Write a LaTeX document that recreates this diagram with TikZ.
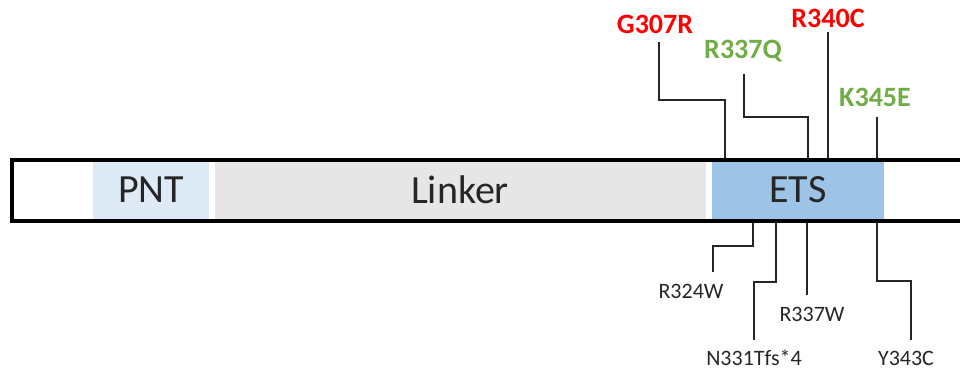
\documentclass[tikz,border=0pt]{standalone}
\usepackage{fontspec}
\setmainfont{Carlito}
\definecolor{pntc}{HTML}{DEEBF7}
\definecolor{linkc}{HTML}{E7E6E6}
\definecolor{etsc}{HTML}{9DC3E6}
\definecolor{mred}{HTML}{FF0000}
\definecolor{mgreen}{HTML}{70AD47}
\definecolor{txt}{HTML}{262626}
\begin{document}
\begin{tikzpicture}[x=1pt,y=-1pt,
  domain/.style={draw=none,inner sep=0,anchor=north west},
  dlabel/.style={text=txt,font=\fontsize{40}{42}\selectfont,inner sep=0},
  redlab/.style={text=mred,font=\fontsize{28}{30}\selectfont\bfseries,inner sep=0,anchor=base},
  greenlab/.style={text=mgreen,font=\fontsize{28}{30}\selectfont\bfseries,inner sep=0,anchor=base},
  botlab/.style={text=txt,font=\fontsize{22}{24}\selectfont,inner sep=0,anchor=base},
  conn/.style={draw=black!85,line width=1.5pt},
  bar/.style={draw=black,line width=4pt,line join=miter}]
\useasboundingbox (0,0) rectangle (960,370);
% domain fills
\fill[pntc] (93,162) rectangle (209,219);
\fill[linkc] (215,162) rectangle (706,219);
\fill[etsc] (712,162) rectangle (884,219);
\node[dlabel] (pnt) at (151,190) {PNT};
\node[dlabel] (linker) at (460,190) {Linker};
\node[dlabel] (ets) at (798,190) {ETS};
% bar outline
\draw[bar] (960,160) -- (12,160) -- (12,221) -- (960,221);
% attachment points on the bar
\coordinate (tg) at (725,158);
\coordinate (tq) at (808,158);
\coordinate (tc) at (828,158);
\coordinate (tk) at (877,158);
\coordinate (bw) at (753,223);
\coordinate (bn) at (776,223);
\coordinate (br) at (807,223);
\coordinate (by) at (877,223);
% top labels
\node[redlab] (g307) at (655,33) {G307R};
\node[greenlab] (r337q) at (743,58) {R337Q};
\node[redlab] (r340c) at (828,27) {R340C};
\node[greenlab] (k345e) at (875,106) {K345E};
\coordinate (g307a) at (659,42);
\coordinate (r337qa) at (744,74);
\coordinate (r340ca) at (828,32);
\coordinate (k345ea) at (877,117);
\draw[conn] (g307a) |- (725,100) -- (tg);
\draw[conn] (r337qa) |- (808,117) -- (tq);
\draw[conn] (r340ca) -- (tc);
\draw[conn] (k345ea) -- (tk);
% bottom labels
\node[botlab] (r324w) at (691,298) {R324W};
\node[botlab] (n331) at (754,365) {N331Tfs*4};
\node[botlab] (r337w) at (812,321) {R337W};
\node[botlab] (y343c) at (906,365) {Y343C};
\coordinate (r324wa) at (713,272);
\coordinate (n331a) at (754,340);
\coordinate (r337wa) at (807,295);
\coordinate (y343ca) at (911,340);
\draw[conn] (bw) -- (753,246) -| (r324wa);
\draw[conn] (bn) -- (776,282) -| (n331a);
\draw[conn] (br) -- (r337wa);
\draw[conn] (by) -- (877,281) -| (y343ca);
\end{tikzpicture}
\end{document}
